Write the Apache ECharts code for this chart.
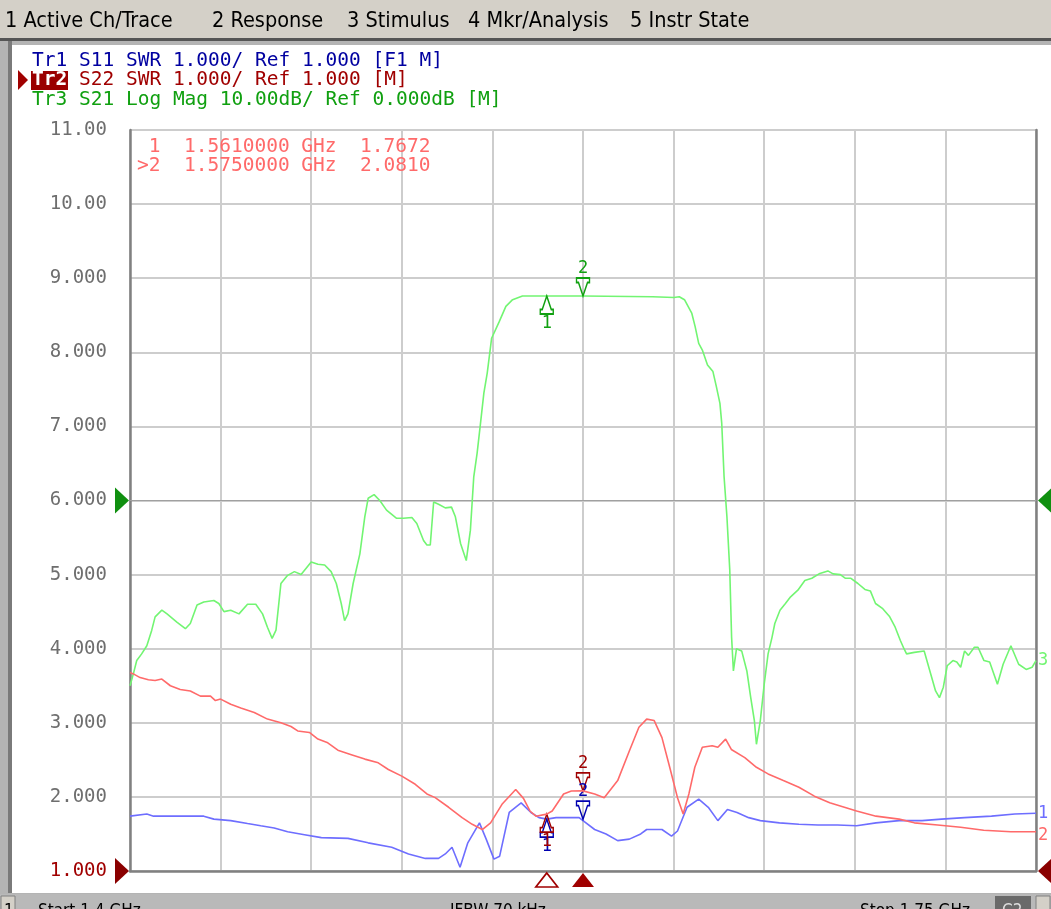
<!DOCTYPE html>
<html>
<head>
<meta charset="utf-8">
<script src="https://cdn.jsdelivr.net/npm/echarts@6/dist/echarts.min.js"></script>
<style>
html,body{margin:0;padding:0;background:#fff;}
#c{width:1051px;height:909px;}
</style>
</head>
<body>
<div id="c"></div>
<script>
// ---- Data (frequency in GHz) ----
const s21Freq = [1.4000,1.4013,1.4026,1.4045,1.4065,1.4084,1.4097,1.4123,1.4143,1.4181,1.4214,1.4233,1.4259,1.4285,1.4324,1.4343,1.4363,1.4389,1.4421,1.4454,1.4486,1.4512,1.4531,1.4549,1.4564,1.4583,1.4609,1.4635,1.4661,1.4700,1.4726,1.4752,1.4777,1.4797,1.4816,1.4829,1.4842,1.4862,1.4888,1.4907,1.4920,1.4943,1.4965,1.4991,1.5030,1.5056,1.5089,1.5108,1.5134,1.5147,1.5160,1.5173,1.5192,1.5218,1.5242,1.5257,1.5277,1.5299,1.5315,1.5328,1.5341,1.5354,1.5367,1.5380,1.5397,1.5426,1.5452,1.5478,1.5516,1.5607,1.5750,1.6019,1.6026,1.6101,1.6122,1.6142,1.6170,1.6183,1.6197,1.6211,1.6231,1.6252,1.6265,1.6279,1.6286,1.6295,1.6306,1.6317,1.6324,1.6331,1.6343,1.6363,1.6383,1.6398,1.6412,1.6420,1.6435,1.6450,1.6465,1.6480,1.6491,1.6511,1.6532,1.6552,1.6580,1.6607,1.6634,1.6662,1.6696,1.6716,1.6744,1.6764,1.6785,1.6812,1.6839,1.6860,1.6880,1.6908,1.6935,1.6956,1.6976,1.6990,1.7000,1.7030,1.7068,1.7090,1.7112,1.7127,1.7142,1.7157,1.7179,1.7194,1.7209,1.7224,1.7239,1.7262,1.7276,1.7299,1.7321,1.7351,1.7373,1.7403,1.7433,1.7462,1.7485,1.7500];
const s21dB = [-25.0,-23.4,-21.6,-20.7,-19.6,-17.5,-15.7,-14.8,-15.3,-16.4,-17.3,-16.6,-14.1,-13.7,-13.5,-13.9,-15.0,-14.8,-15.3,-14.0,-14.0,-15.3,-17.1,-18.6,-17.5,-11.2,-10.1,-9.6,-10.0,-8.3,-8.6,-8.7,-9.6,-11.2,-13.9,-16.2,-15.3,-11.2,-7.2,-2.2,0.3,0.8,0.0,-1.3,-2.4,-2.4,-2.3,-3.1,-5.4,-6.0,-6.0,-0.2,-0.5,-1.0,-0.9,-2.2,-5.8,-8.1,-4.0,3.2,6.4,10.4,14.5,17.2,21.9,24.1,26.2,27.1,27.6,27.6,27.6,27.5,27.3,27.4,27.5,27.1,25.3,23.5,21.2,20.3,18.3,17.4,15.4,13.1,10.4,3.2,-2.2,-9.4,-18.4,-23.0,-20.0,-20.3,-23.0,-26.6,-29.7,-32.9,-29.7,-24.8,-20.7,-18.5,-16.6,-14.8,-13.9,-13.0,-12.1,-10.8,-10.5,-9.9,-9.5,-9.9,-10.0,-10.5,-10.5,-11.2,-12.0,-12.2,-13.9,-14.6,-15.7,-17.1,-18.9,-20.0,-20.7,-20.5,-20.3,-23.0,-25.7,-26.6,-25.2,-22.3,-21.6,-21.8,-22.5,-20.3,-20.9,-19.8,-19.8,-21.6,-21.8,-24.8,-22.1,-19.6,-22.1,-22.8,-22.5,-21.6];

const s22Freq = [1.4000,1.4013,1.4039,1.4071,1.4097,1.4123,1.4156,1.4194,1.4233,1.4272,1.4311,1.4330,1.4350,1.4389,1.4428,1.4480,1.4531,1.4583,1.4622,1.4648,1.4693,1.4726,1.4764,1.4803,1.4855,1.4907,1.4959,1.4998,1.5050,1.5102,1.5147,1.5179,1.5231,1.5283,1.5322,1.5361,1.5393,1.5437,1.5490,1.5520,1.5545,1.5568,1.5610,1.5631,1.5675,1.5705,1.5750,1.5795,1.5832,1.5884,1.5929,1.5966,1.5996,1.6025,1.6055,1.6085,1.6115,1.6137,1.6159,1.6182,1.6211,1.6249,1.6271,1.6301,1.6323,1.6375,1.6420,1.6465,1.6524,1.6584,1.6644,1.6703,1.6807,1.6882,1.6971,1.7030,1.7120,1.7209,1.7298,1.7403,1.7500];
const s22SWR = [3.68,3.66,3.61,3.58,3.57,3.59,3.50,3.45,3.43,3.36,3.36,3.30,3.32,3.25,3.20,3.14,3.05,3.00,2.95,2.89,2.87,2.78,2.73,2.63,2.57,2.51,2.46,2.37,2.28,2.17,2.04,1.99,1.86,1.72,1.63,1.56,1.65,1.90,2.10,1.98,1.81,1.74,1.7672,1.81,2.04,2.08,2.081,2.04,1.99,2.22,2.62,2.94,3.05,3.03,2.80,2.40,1.99,1.77,2.04,2.40,2.67,2.69,2.67,2.78,2.64,2.53,2.40,2.31,2.22,2.13,2.01,1.92,1.81,1.74,1.70,1.65,1.62,1.59,1.55,1.53,1.53];

const s11Freq = [1.4000,1.4065,1.4091,1.4233,1.4285,1.4324,1.4389,1.4454,1.4505,1.4557,1.4609,1.4674,1.4739,1.4842,1.4920,1.5011,1.5076,1.5141,1.5192,1.5218,1.5244,1.5275,1.5305,1.5350,1.5376,1.5406,1.5428,1.5465,1.5511,1.5549,1.5580,1.5610,1.5646,1.5735,1.5750,1.5795,1.5839,1.5884,1.5929,1.5973,1.5996,1.6055,1.6092,1.6115,1.6152,1.6197,1.6234,1.6271,1.6308,1.6345,1.6390,1.6435,1.6509,1.6584,1.6658,1.6733,1.6807,1.6882,1.6971,1.7060,1.7135,1.7224,1.7328,1.7418,1.7500];
const s11SWR = [1.74,1.77,1.74,1.74,1.74,1.70,1.68,1.64,1.61,1.58,1.53,1.49,1.45,1.44,1.38,1.32,1.23,1.17,1.17,1.23,1.32,1.05,1.38,1.65,1.43,1.16,1.20,1.79,1.92,1.79,1.72,1.70,1.72,1.72,1.68,1.56,1.50,1.41,1.43,1.50,1.56,1.56,1.47,1.54,1.86,1.97,1.86,1.68,1.83,1.79,1.72,1.68,1.65,1.63,1.62,1.62,1.61,1.65,1.68,1.68,1.70,1.72,1.74,1.77,1.78];

const markerFreq = [1.561, 1.575];
const markerS21 = [27.6, 27.6];
const markerS22 = [1.7672, 2.0810];
const markerS11 = [1.70, 1.70];

const yTickLabels = ['1.000','2.000','3.000','4.000','5.000','6.000','7.000','8.000','9.000','10.00','11.00'];
const menuItems = ['1 Active Ch/Trace','2 Response','3 Stimulus','4 Mkr/Analysis','5 Instr State'];
const traceLines = [
  'Tr1 S11 SWR 1.000/ Ref 1.000 [F1 M]',
  '    S22 SWR 1.000/ Ref 1.000 [M]',
  'Tr3 S21 Log Mag 10.00dB/ Ref 0.000dB [M]'
];
const readout = [' 1  1.5610000 GHz  1.7672', '>2  1.5750000 GHz  2.0810'];

// ---- styling ----
const MONO = "'DejaVu Sans Mono', monospace";
const COND = "'DejaVu Sans Condensed', 'Liberation Sans Narrow', 'DejaVu Sans', sans-serif";
const C_GREEN = '#72f572', C_RED = '#ff6a6a', C_BLUE = '#6e6eff';
const D_GREEN = '#10a010', D_RED = '#a00000', D_BLUE = '#0000b0';

const UP = 'path://M6.5,0 L11,12 L13,12 L13,16 L0,16 L0,12 L2,12 Z';
const DOWN = 'path://M0,0 L13,0 L13,4 L11,4 L6.5,16 L2,4 L0,4 Z';
const TRI_UP = 'path://M11,0 L22,14 L0,14 Z';
const TRI_R = 'path://M0,0 L14,13 L0,26 Z';
const TRI_L = 'path://M14,0 L0,13 L14,26 Z';

function pairs(xs, ys){ return xs.map((x,i)=>[x, ys[i]]); }

function markerPts(vals, dark){
  return [
    {coord:[markerFreq[0], vals[0]], symbol:UP, symbolSize:[13,18], symbolOffset:[0,9],
     itemStyle:{color:'rgba(255,255,255,0)', borderColor:dark, borderWidth:1.6},
     label:{show:true, formatter:'1', position:'bottom', distance:0, color:dark, fontFamily:MONO, fontSize:17}},
    {coord:[markerFreq[1], vals[1]], symbol:DOWN, symbolSize:[13,18], symbolOffset:[0,-9],
     itemStyle:{color:'rgba(255,255,255,0)', borderColor:dark, borderWidth:1.6},
     label:{show:true, formatter:'2', position:'top', distance:0, color:dark, fontFamily:MONO, fontSize:17}}
  ];
}

const chart = echarts.init(document.getElementById('c'), null, {renderer:'canvas'});

const graphics = [
  // window frame
  {type:'rect', z:-10, shape:{x:0,y:0,width:1051,height:909}, style:{fill:'#b4b4b4'}},
  {type:'rect', z:-9, shape:{x:0,y:0,width:1051,height:38}, style:{fill:'#d4d0c8'}},
  {type:'rect', z:-9, shape:{x:0,y:38,width:1051,height:3}, style:{fill:'#555555'}},
  {type:'rect', z:-9, shape:{x:8,y:41,width:4,height:852}, style:{fill:'#7a7a7a'}},
  {type:'rect', z:-8, shape:{x:12,y:45,width:1039,height:848}, style:{fill:'#ffffff'}},
  // bottom status bar
  {type:'rect', z:-7, shape:{x:0,y:894,width:1051,height:15}, style:{fill:'#b9b9b9'}},
  {type:'rect', z:-6, shape:{x:1,y:896,width:14,height:20}, style:{fill:'#d4d0c8', stroke:'#808080', lineWidth:1}},
  {type:'rect', z:-6, shape:{x:995,y:896,width:36,height:20}, style:{fill:'#6a6a6a'}},
  {type:'rect', z:-6, shape:{x:1036,y:896,width:14,height:20}, style:{fill:'#d4d0c8', stroke:'#808080', lineWidth:1}},
  {type:'text', z:5, style:{x:4, y:912, text:'1', fill:'#000', font:"17px "+COND, textVerticalAlign:'middle'}},
  {type:'text', z:5, style:{x:38, y:912, text:'Start 1.4 GHz', fill:'#000', font:"17px "+COND, textVerticalAlign:'middle'}},
  {type:'text', z:5, style:{x:450, y:912, text:'IFBW 70 kHz', fill:'#000', font:"17px "+COND, textVerticalAlign:'middle'}},
  {type:'text', z:5, style:{x:860, y:912, text:'Stop 1.75 GHz', fill:'#000', font:"17px "+COND, textVerticalAlign:'middle'}},
  {type:'text', z:5, style:{x:1002, y:912, text:'C2', fill:'#ddd', font:"17px "+COND, textVerticalAlign:'middle'}},
  // trace legend
  {type:'text', z:5, style:{x:32, y:61, text:traceLines[0], fill:'#0000a0', font:"19.5px "+MONO, textVerticalAlign:'middle'}},
  {type:'polygon', z:5, shape:{points:[[18,70],[28,80],[18,90]]}, style:{fill:D_RED}},
  {type:'rect', z:5, shape:{x:31,y:71,width:37,height:19}, style:{fill:'#9a0000'}},
  {type:'text', z:6, style:{x:32, y:80, text:'Tr2', fill:'#ffffff', font:"bold 19.5px "+MONO, textVerticalAlign:'middle'}},
  {type:'text', z:5, style:{x:32, y:80, text:traceLines[1], fill:'#a00000', font:"19.5px "+MONO, textVerticalAlign:'middle'}},
  {type:'text', z:5, style:{x:32, y:100, text:traceLines[2], fill:'#10a010', font:"19.5px "+MONO, textVerticalAlign:'middle'}},
  // marker readout
  {type:'text', z:5, style:{x:137, y:147, text:readout[0], fill:'#ff6a6a', font:"19.5px "+MONO, textVerticalAlign:'middle'}},
  {type:'text', z:5, style:{x:137, y:166, text:readout[1], fill:'#ff6a6a', font:"19.5px "+MONO, textVerticalAlign:'middle'}}
];
// menu bar items
const menuX = [5, 212, 347, 468, 630];
menuItems.forEach((t,i)=>{
  graphics.push({type:'text', z:5, style:{x:menuX[i], y:21, text:t, fill:'#000', font:"21.5px "+COND, textVerticalAlign:'middle'}});
});

const option = {
  animation:false,
  backgroundColor:'transparent',
  grid:{left:130, right:15, top:130, bottom:38, containLabel:false},
  xAxis:[
    {type:'value', min:1.4, max:1.75, interval:0.035, position:'bottom',
     axisLine:{show:true, onZero:false, lineStyle:{color:'#808080', width:2.5}},
     axisTick:{show:false}, axisLabel:{show:false},
     splitLine:{show:true, lineStyle:{color:'#cdcdcd', width:2}}},
    {type:'value', min:1.4, max:1.75, position:'top',
     axisLine:{show:true, lineStyle:{color:'#a0a0a0', width:1}},
     axisTick:{show:false}, axisLabel:{show:false}, splitLine:{show:false}}
  ],
  yAxis:[
    {type:'value', min:1, max:11, interval:1, position:'left',
     axisLine:{show:true, onZero:false, lineStyle:{color:'#808080', width:2.5}},
     axisTick:{show:false},
     axisLabel:{show:true, margin:23, fontFamily:MONO, fontSize:19,
       formatter:(v)=>yTickLabels[Math.round(v)-1],
       color:(v)=> Math.round(v)===1 ? '#a00000' : '#6e6e6e'},
     splitLine:{show:true, lineStyle:{color:'#cdcdcd', width:2}}},
    {type:'value', min:-50, max:50, interval:10, position:'right',
     axisLine:{show:true, onZero:false, lineStyle:{color:'#808080', width:2.5}},
     axisTick:{show:false}, axisLabel:{show:false}, splitLine:{show:false}}
  ],
  series:[
    {name:'S21', type:'line', xAxisIndex:0, yAxisIndex:1, data:pairs(s21Freq, s21dB),
     symbol:'none', smooth:false, clip:false, z:3,
     lineStyle:{color:C_GREEN, width:1.6},
     endLabel:{show:true, formatter:'3', color:C_GREEN, fontFamily:MONO, fontSize:17, distance:2},
     markPoint:{silent:true, data: markerPts(markerS21, D_GREEN).concat([
       {coord:[1.4, 0], symbol:TRI_R, symbolSize:[14,26], symbolOffset:[-8,0], itemStyle:{color:'#109010'}, label:{show:false}},
       {coord:[1.75, 0], symbol:TRI_L, symbolSize:[14,26], symbolOffset:[9,0], itemStyle:{color:'#109010'}, label:{show:false}}
     ])}},
    {name:'S11', type:'line', xAxisIndex:0, yAxisIndex:0, data:pairs(s11Freq, s11SWR),
     symbol:'none', smooth:false, z:4,
     lineStyle:{color:C_BLUE, width:1.6},
     endLabel:{show:true, formatter:'1', color:C_BLUE, fontFamily:MONO, fontSize:17, distance:2},
     markPoint:{silent:true, data: markerPts(markerS11, D_BLUE)}},
    {name:'S22', type:'line', xAxisIndex:0, yAxisIndex:0, data:pairs(s22Freq, s22SWR),
     symbol:'none', smooth:false, z:5,
     lineStyle:{color:C_RED, width:1.6},
     endLabel:{show:true, formatter:'2', color:C_RED, fontFamily:MONO, fontSize:17, distance:2, offset:[0,4]},
     markPoint:{silent:true, data: markerPts(markerS22, D_RED).concat([
       {coord:[markerFreq[0], 1], symbol:TRI_UP, symbolSize:[22,14], symbolOffset:[0,9],
        itemStyle:{color:'#ffffff', borderColor:D_RED, borderWidth:1.6}, label:{show:false}},
       {coord:[markerFreq[1], 1], symbol:TRI_UP, symbolSize:[22,14], symbolOffset:[0,9],
        itemStyle:{color:D_RED}, label:{show:false}},
       {coord:[1.4, 1], symbol:TRI_R, symbolSize:[14,26], symbolOffset:[-8,0], itemStyle:{color:'#8a0000'}, label:{show:false}},
       {coord:[1.75, 1], symbol:TRI_L, symbolSize:[14,26], symbolOffset:[9,0], itemStyle:{color:'#8a0000'}, label:{show:false}}
     ])}}
  ],
  graphic: graphics
};
chart.setOption(option);
</script>
</body>
</html>
